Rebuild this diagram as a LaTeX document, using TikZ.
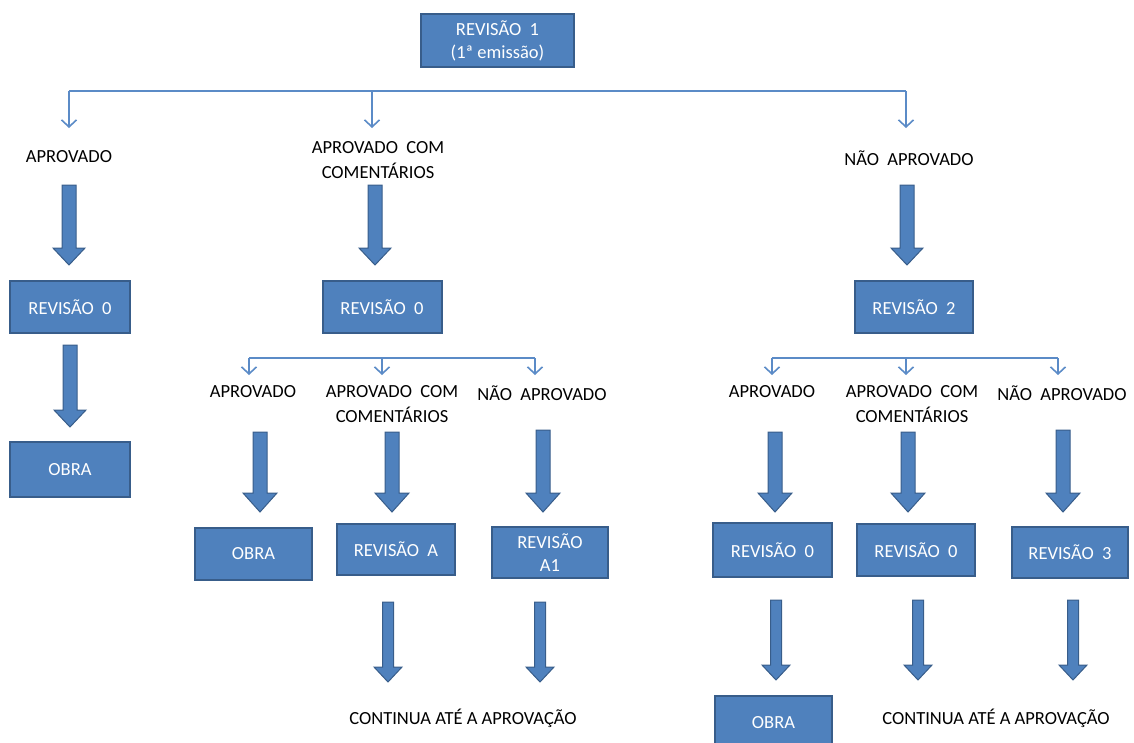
\documentclass[tikz,border=0pt]{standalone}
\usepackage{fontspec}
\setmainfont{Carlito}
\usetikzlibrary{calc,arrows.meta}
\definecolor{boxfill}{HTML}{4F81BD}
\definecolor{boxline}{HTML}{385D8A}
\definecolor{conn}{HTML}{5B8BC7}
\newcommand{\wsp}{\hspace{0.45em}}
\tikzset{
 box/.style={draw=boxline, line width=2pt, fill=boxfill, text=white, font=\fontsize{18.5}{23}\selectfont, align=center, inner sep=0pt},
 lbl/.style={font=\fontsize{18.5}{25}\selectfont, align=center, inner sep=0pt, text=black},
 tree/.style={draw=conn, line width=1.6pt},
 drop/.style={tree, -{Straight Barb[length=7pt,width=15pt]}},
 barrowsty/.style={fill=boxfill, draw=boxline, line width=1pt, line join=miter},
}
\newcommand{\barrow}[5]{\draw[barrowsty] ($(#1)+(-#3,0)$) -- ($(#2)+(-#3,-#5)$) -- ($(#2)+(-#4,-#5)$) -- (#2) -- ($(#2)+(#4,-#5)$) -- ($(#2)+(#3,-#5)$) -- ($(#1)+(#3,0)$) -- cycle;}
\begin{document}
\begin{tikzpicture}[x=1pt,y=-1pt]
\useasboundingbox (0,0) rectangle (1134,742);
\clip (0,0) rectangle (1134,742);
% top box
\node[box, minimum width=153pt, minimum height=53pt] (r1) at (497.5,40.5) {REVISÃO\wsp 1\\(1ª emissão)};
% top tree
\coordinate (h1L) at (69,91); \coordinate (h1M) at (372,91); \coordinate (h1R) at (906,91);
\coordinate (t1a) at (69,128); \coordinate (t1b) at (372,128); \coordinate (t1c) at (906,128);
\draw[tree] (h1L) -- (h1R);
\draw[drop] (h1L) -- (t1a);
\draw[drop] (h1M) -- (t1b);
\draw[drop] (h1R) -- (t1c);
% level 1 labels
\node[lbl] (l1a) at (69,157) {APROVADO};
\node[lbl] (l1b) at (378,160.5) {APROVADO\wsp COM\\COMENTÁRIOS};
\node[lbl] (l1c) at (909,158) {NÃO\wsp APROVADO};
% level 1 block arrows
\coordinate (a1s) at (69,185); \coordinate (a1e) at (69,265);
\coordinate (a2s) at (375,185); \coordinate (a2e) at (375,265);
\coordinate (a3s) at (907,185); \coordinate (a3e) at (907,265);
\barrow{a1s}{a1e}{7}{16}{17}
\barrow{a2s}{a2e}{7}{16}{17}
\barrow{a3s}{a3e}{7}{16}{17}
% level 2 boxes
\node[box, minimum width=120pt, minimum height=52pt] (b1) at (70,307) {REVISÃO\wsp 0};
\node[box, minimum width=119pt, minimum height=52pt] (b2) at (382,307) {REVISÃO\wsp 0};
\node[box, minimum width=118pt, minimum height=52pt] (b3) at (914,307) {REVISÃO\wsp 2};
% left branch
\coordinate (a4s) at (70,345); \coordinate (a4e) at (70,427);
\barrow{a4s}{a4e}{7}{16}{17}
\node[box, minimum width=120pt, minimum height=55pt] (o1) at (70,469.5) {OBRA};
% middle tree
\coordinate (h2L) at (249,358); \coordinate (h2M) at (382,358); \coordinate (h2R) at (535,358);
\coordinate (t2a) at (249,375); \coordinate (t2b) at (382,375); \coordinate (t2c) at (535,375);
\draw[tree] (h2L) -- (h2R);
\draw[drop] (h2L) -- (t2a);
\draw[drop] (h2M) -- (t2b);
\draw[drop] (h2R) -- (t2c);
% right tree
\coordinate (h3L) at (772,358); \coordinate (h3M) at (906,358); \coordinate (h3R) at (1058,358);
\coordinate (t3a) at (772,375); \coordinate (t3b) at (906,375); \coordinate (t3c) at (1058,375);
\draw[tree] (h3L) -- (h3R);
\draw[drop] (h3L) -- (t3a);
\draw[drop] (h3M) -- (t3b);
\draw[drop] (h3R) -- (t3c);
% level 3 labels
\node[lbl] (m1) at (253,392) {APROVADO};
\node[lbl] (m2) at (392,404) {APROVADO\wsp COM\\COMENTÁRIOS};
\node[lbl] (m3) at (542,393) {NÃO\wsp APROVADO};
\node[lbl] (n1) at (772,392) {APROVADO};
\node[lbl] (n2) at (912,404) {APROVADO\wsp COM\\COMENTÁRIOS};
\node[lbl] (n3) at (1062,393) {NÃO\wsp APROVADO};
% level 3 block arrows
\coordinate (c1s) at (260,432); \coordinate (c1e) at (260,512);
\coordinate (c2s) at (392,432); \coordinate (c2e) at (392,512);
\coordinate (c3s) at (543,430); \coordinate (c3e) at (543,512);
\coordinate (c4s) at (775,432); \coordinate (c4e) at (775,512);
\coordinate (c5s) at (908,432); \coordinate (c5e) at (908,512);
\coordinate (c6s) at (1063,430); \coordinate (c6e) at (1063,512);
\barrow{c1s}{c1e}{7}{17}{19}
\barrow{c2s}{c2e}{7}{17}{19}
\barrow{c3s}{c3e}{7}{17}{19}
\barrow{c4s}{c4e}{7}{17}{19}
\barrow{c5s}{c5e}{7}{17}{19}
\barrow{c6s}{c6e}{7}{17}{19}
% level 3 boxes
\node[box, minimum width=117pt, minimum height=52pt] (o2) at (253.5,554) {OBRA};
\node[box, minimum width=118pt, minimum height=51pt] (ra) at (396,549.5) {REVISÃO\wsp A};
\node[box, minimum width=116pt, minimum height=51pt] (ra1) at (550,552.5) {REVISÃO\\A1};
\node[box, minimum width=119pt, minimum height=54pt] (r0a) at (772.5,550) {REVISÃO\wsp 0};
\node[box, minimum width=118pt, minimum height=52pt] (r0b) at (916,550) {REVISÃO\wsp 0};
\node[box, minimum width=116pt, minimum height=51pt] (r3) at (1070,552.5) {REVISÃO\wsp 3};
% bottom block arrows
\coordinate (d1s) at (388,602); \coordinate (d1e) at (388,682);
\coordinate (d2s) at (540,602); \coordinate (d2e) at (540,682);
\coordinate (d3s) at (776,600); \coordinate (d3e) at (776,680);
\coordinate (d4s) at (918,600); \coordinate (d4e) at (918,680);
\coordinate (d5s) at (1073,600); \coordinate (d5e) at (1073,680);
\barrow{d1s}{d1e}{5.5}{14}{15}
\barrow{d2s}{d2e}{5.5}{14}{15}
\barrow{d3s}{d3e}{5.5}{14}{15}
\barrow{d4s}{d4e}{5.5}{14}{15}
\barrow{d5s}{d5e}{5.5}{14}{15}
% bottom
\node[lbl] (k1) at (463,718) {CONTINUA ATÉ A APROVAÇÃO};
\node[box, minimum width=117pt, minimum height=54pt] (o3) at (773.5,723) {OBRA};
\node[lbl] (k2) at (996,718) {CONTINUA ATÉ A APROVAÇÃO};
\end{tikzpicture}
\end{document}
